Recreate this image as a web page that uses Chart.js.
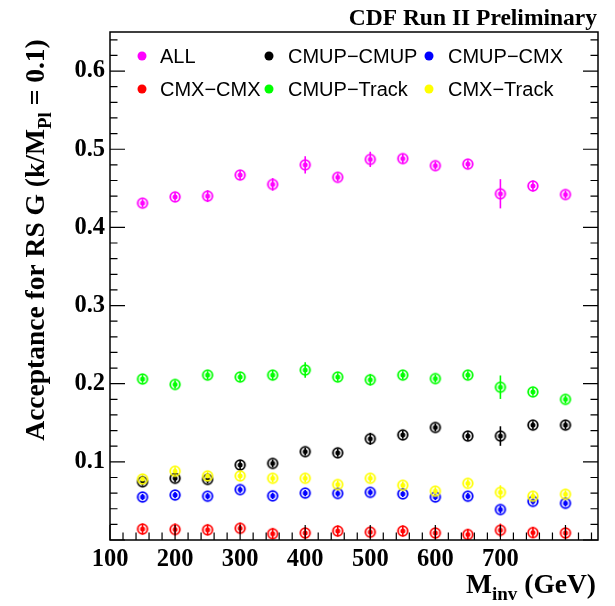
<!DOCTYPE html>
<html>
<head>
<meta charset="utf-8">
<script src="https://cdn.jsdelivr.net/npm/chart.js@4/dist/chart.umd.min.js"></script>
<style>
  html, body { margin: 0; padding: 0; background: #fff; overflow: hidden; }
</style>
</head>
<body>
<canvas id="acc" width="615" height="606"></canvas>
<script>
// masses (GeV) and acceptance per channel
const masses = [150, 200, 250, 300, 350, 400, 450, 500, 550, 600, 650, 700, 750, 800];

const seriesNames = ["ALL", "CMUP\u2212CMUP", "CMUP\u2212CMX", "CMX\u2212CMX", "CMUP\u2212Track", "CMX\u2212Track"];
const seriesColors = ["#ff00ff", "#000000", "#0000ff", "#ff0000", "#00ff00", "#ffff00"];

const accAll       = [0.431, 0.439, 0.440, 0.467, 0.455, 0.480, 0.464, 0.487, 0.488, 0.479, 0.481, 0.443, 0.453, 0.442];
const accCmupCmup  = [0.0745, 0.079, 0.0775, 0.096, 0.098, 0.113, 0.1115, 0.1295, 0.1345, 0.144, 0.133, 0.133, 0.147, 0.147];
const accCmupCmx   = [0.055, 0.0575, 0.056, 0.0645, 0.0565, 0.060, 0.0595, 0.061, 0.059, 0.055, 0.056, 0.039, 0.0495, 0.047];
const accCmxCmx    = [0.014, 0.0135, 0.013, 0.015, 0.008, 0.009, 0.0115, 0.010, 0.0115, 0.009, 0.007, 0.0125, 0.0095, 0.009];
const accCmupTrack = [0.206, 0.199, 0.211, 0.2085, 0.211, 0.2175, 0.2085, 0.205, 0.211, 0.2065, 0.211, 0.1955, 0.1895, 0.180];
const accCmxTrack  = [0.078, 0.088, 0.082, 0.082, 0.079, 0.079, 0.071, 0.079, 0.070, 0.0625, 0.0725, 0.061, 0.056, 0.0585];

const errAll       = [0.005, 0.005, 0.0075, 0.005, 0.008, 0.011, 0.005, 0.0098, 0.006, 0.005, 0.005, 0.0187, 0.007, 0.005];
const errCmupCmup  = [0.005, 0.005, 0.005, 0.005, 0.005, 0.005, 0.005, 0.0075, 0.005, 0.005, 0.005, 0.0125, 0.005, 0.005];
const errCmupCmx   = [0.004, 0.004, 0.004, 0.004, 0.004, 0.004, 0.004, 0.004, 0.004, 0.004, 0.004, 0.005, 0.004, 0.004];
const errCmxCmx    = [0.007, 0.0075, 0.007, 0.007, 0.007, 0.007, 0.007, 0.007, 0.007, 0.007, 0.007, 0.0085, 0.007, 0.007];
const errCmupTrack = [0.005, 0.005, 0.005, 0.005, 0.0064, 0.0098, 0.005, 0.0072, 0.005, 0.005, 0.005, 0.015, 0.005, 0.005];
const errCmxTrack  = [0.005, 0.005, 0.005, 0.005, 0.005, 0.005, 0.005, 0.005, 0.005, 0.005, 0.005, 0.009, 0.005, 0.005];

const seriesValues = [accAll, accCmupCmup, accCmupCmx, accCmxCmx, accCmupTrack, accCmxTrack];
const seriesErrors = [errAll, errCmupCmup, errCmupCmx, errCmxCmx, errCmupTrack, errCmxTrack];

const xTickVals = [100, 200, 300, 400, 500, 600, 700, 800];
const xTickLabels = ["100", "200", "300", "400", "500", "600", "700", "800"];
const yTickVals = [0.1, 0.2, 0.3, 0.4, 0.5, 0.6];
const yTickLabels = ["0.1", "0.2", "0.3", "0.4", "0.5", "0.6"];

const SERIF = "'Liberation Serif', 'Times New Roman', serif";
const SANS = "'Liberation Sans', Arial, sans-serif";

// open circle with a dot inside, like the ROOT markers
const makeMarker = (color) => {
    const c = document.createElement("canvas");
    c.width = 16;
    c.height = 16;
    const g = c.getContext("2d");
    g.strokeStyle = color;
    g.fillStyle = color;
    g.lineWidth = 1.8;
    g.beginPath();
    g.arc(8, 8, 4.8, 0, Math.PI * 2);
    g.stroke();
    g.beginPath();
    g.arc(8, 8, 2.5, 0, Math.PI * 2);
    g.fill();
    return c;
};

const findLabel = (vals, labels, v) => {
    const i = vals.findIndex((t) => Math.abs(t - v) < 1e-6);
    return i >= 0 ? labels[i] : "";
};

const errorBars = {
    id: "errorBars",
    beforeDatasetsDraw(chart) {
        const { ctx, chartArea, scales } = chart;
        ctx.save();
        ctx.beginPath();
        ctx.rect(chartArea.left, chartArea.top, chartArea.right - chartArea.left, chartArea.bottom - chartArea.top);
        ctx.clip();
        ctx.lineWidth = 1.6;
        seriesValues.forEach((vals, s) => {
            ctx.strokeStyle = seriesColors[s];
            vals.forEach((v, i) => {
                const px = scales.x.getPixelForValue(masses[i]);
                const e = seriesErrors[s][i];
                ctx.beginPath();
                ctx.moveTo(px, scales.y.getPixelForValue(v - e));
                ctx.lineTo(px, scales.y.getPixelForValue(v + e));
                ctx.stroke();
            });
        });
        ctx.restore();
    },
};

const drawParts = (ctx, parts, x, y) => {
    // parts: [text, size, baseline shift]
    let cx = x;
    parts.forEach(([t, size, dy]) => {
        ctx.font = "bold " + size + "px " + SERIF;
        ctx.fillText(t, cx, y + dy);
        cx += ctx.measureText(t).width;
    });
};

const partsWidth = (ctx, parts) => {
    let w = 0;
    parts.forEach(([t, size]) => {
        ctx.font = "bold " + size + "px " + SERIF;
        w += ctx.measureText(t).width;
    });
    return w;
};

const frameAndText = {
    id: "frameAndText",
    afterDraw(chart) {
        const { ctx, chartArea, scales } = chart;
        const { left, right, top, bottom } = chartArea;
        ctx.save();
        ctx.strokeStyle = "#000";
        ctx.fillStyle = "#000";

        // frame
        ctx.lineWidth = 1.5;
        ctx.strokeRect(left, top, right - left, bottom - top);

        // y ticks, left and right, every 0.02
        ctx.lineWidth = 1.2;
        for (let k = 0; k <= 32; k++) {
            const py = scales.y.getPixelForValue(k * 0.02);
            const len = k % 5 === 0 ? 15 : 7.5;
            ctx.beginPath();
            ctx.moveTo(left, py);
            ctx.lineTo(left + len, py);
            ctx.moveTo(right, py);
            ctx.lineTo(right - len, py);
            ctx.stroke();
        }
        // x ticks every 20 GeV
        for (let m = 100; m <= 850; m += 20) {
            const px = scales.x.getPixelForValue(m);
            const len = m % 100 === 0 ? 15 : 7.5;
            ctx.beginPath();
            ctx.moveTo(px, bottom);
            ctx.lineTo(px, bottom - len);
            ctx.stroke();
        }

        // title
        ctx.textBaseline = "alphabetic";
        ctx.textAlign = "right";
        ctx.font = "bold 23.5px " + SERIF;
        ctx.fillText("CDF Run II Preliminary", 597, 25);

        // x axis title
        ctx.textAlign = "left";
        const xParts = [["M", 27.5, 0], ["inv", 19, 7], [" (GeV)", 27.5, 0]];
        drawParts(ctx, xParts, 596 - partsWidth(ctx, xParts), 593);

        // y axis title, rotated
        const yParts = [["Acceptance for RS G (k/M", 27.5, 0], ["Pl", 19, 7], [" = 0.1)", 27.5, 0]];
        const yw = partsWidth(ctx, yParts);
        ctx.save();
        ctx.translate(44, 240 + yw / 2);
        ctx.rotate(-Math.PI / 2);
        drawParts(ctx, yParts, 0, 0);
        ctx.restore();

        // legend, 3 columns x 2 rows inside the frame
        const colMark = [142, 269, 429];
        const colText = [160, 288, 448];
        const rowY = [56, 89];
        ctx.font = "20px " + SANS;
        ctx.textBaseline = "middle";
        seriesNames.forEach((name, s) => {
            const r = Math.floor(s / 3);
            const c = s % 3;
            ctx.fillStyle = seriesColors[s];
            ctx.beginPath();
            ctx.arc(colMark[c], rowY[r], 4.5, 0, Math.PI * 2);
            ctx.fill();
            ctx.fillStyle = "#000";
            ctx.fillText(name, colText[c], rowY[r] + 1);
        });
        ctx.restore();
    },
};

const datasets = seriesValues.map((vals, s) => ({
    label: seriesNames[s],
    data: vals.map((v, i) => ({ x: masses[i], y: v })),
    pointStyle: makeMarker(seriesColors[s]),
    pointRadius: 6,
    borderColor: seriesColors[s],
    backgroundColor: seriesColors[s],
    showLine: false,
    order: seriesValues.length - s,
}));

new Chart(document.getElementById("acc"), {
    type: "scatter",
    data: { datasets: datasets },
    options: {
        responsive: false,
        animation: false,
        events: [],
        layout: { padding: { left: 0, top: 32, right: 17, bottom: 0 } },
        plugins: {
            legend: { display: false },
            tooltip: { enabled: false },
        },
        scales: {
            x: {
                type: "linear",
                min: 100,
                max: 850,
                grid: { display: false, drawTicks: false },
                border: { display: false },
                afterFit: (scale) => { scale.height = 66; },
                ticks: {
                    stepSize: 100,
                    autoSkip: false,
                    maxRotation: 0,
                    padding: 5,
                    color: "#000",
                    font: { family: SERIF, weight: "bold", size: 24.5 },
                    callback: (v) => findLabel(xTickVals, xTickLabels, v),
                },
            },
            y: {
                type: "linear",
                min: 0,
                max: 0.65,
                grid: { display: false, drawTicks: false },
                border: { display: false },
                afterFit: (scale) => { scale.width = 110; },
                ticks: {
                    stepSize: 0.1,
                    autoSkip: false,
                    padding: 5,
                    color: "#000",
                    font: { family: SERIF, weight: "bold", size: 24.5 },
                    callback: (v) => findLabel(yTickVals, yTickLabels, v),
                },
            },
        },
    },
    plugins: [errorBars, frameAndText],
});
</script>
</body>
</html>
